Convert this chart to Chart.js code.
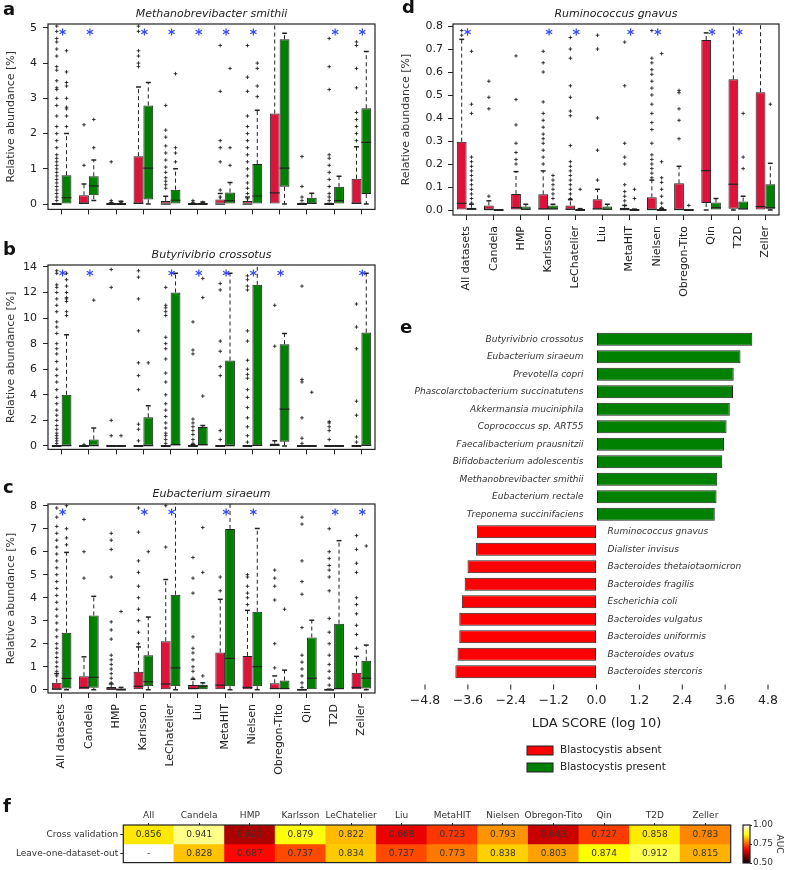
<!DOCTYPE html>
<html>
<head>
<meta charset="utf-8">
<script src="https://cdn.jsdelivr.net/npm/chart.js@4.4.1/dist/chart.umd.min.js"></script>
<style>
  body { margin: 0; width: 785px; height: 870px; position: relative; background: #fff; overflow: hidden; }
  canvas { position: absolute; }
</style>
</head>
<body>
<canvas id="chartA" width="390" height="222" style="left:0;top:0"></canvas>
<canvas id="chartB" width="390" height="222" style="left:0;top:240px"></canvas>
<canvas id="chartC" width="390" height="310" style="left:0;top:480px"></canvas>
<canvas id="chartD" width="385" height="320" style="left:400px;top:0"></canvas>
<canvas id="chartE" width="385" height="460" style="left:400px;top:320px"></canvas>
<canvas id="chartF" width="785" height="80" style="left:0;top:790px"></canvas>
<canvas id="colorBar" width="50" height="56" style="left:735px;top:815px"></canvas>
<script>
// ---- data ----
const datasetNames = ['All datasets', 'Candela', 'HMP', 'Karlsson', 'LeChatelier', 'Liu',
  'MetaHIT', 'Nielsen', 'Obregon-Tito', 'Qin', 'T2D', 'Zeller'];
const groupNames = ['Blastocystis absent', 'Blastocystis present'];

// box stats per dataset: [low whisker, q1, median, q3, high whisker]
const smithiiAbsent = [[0,0,0,0,0],[0,0,0.02,0.25,0.57],[0,0,0,0.01,0.03],[0,0,0.02,1.36,3.32],[0,0,0,0.09,0.22],[0,0,0,0.01,0.02],
  [0,0,0,0.13,0.3],[0,0,0,0.09,0.2],[0,0,0.32,2.57,6],[0,0,0,0.01,0.02],[0,0,0,0.01,0.02],[0,0,0.02,0.72,1.63]];
const smithiiPresent = [[0,0,0.18,0.82,2.0],[0.1,0.25,0.52,0.79,1.25],[0,0,0.01,0.04,0.08],[0,0.13,1.02,2.8,3.45],[0,0,0.11,0.41,1.0],[0,0,0.01,0.03,0.06],
  [0,0,0.1,0.33,0.61],[0,0,0.23,1.14,2.66],[0,0.49,1.02,4.68,4.85],[0,0,0.02,0.18,0.31],[0,0,0.1,0.49,0.79],[0,0.29,1.75,2.72,4.33]];
const smithiiAbsentOut = [
  [0.1,0.2,0.3,0.4,0.5,0.6,0.7,0.8,0.9,1.0,1.1,1.2,1.3,1.4,1.6,1.8,2.0,2.2,2.5,2.8,3.0,3.25,3.3,3.5,3.8,3.9,4.2,4.4,4.6,4.7,4.9,5.05],
  [1.1,2.25],[0.05,0.1,1.2],[3.9,4.0,4.2,4.35,4.9,5.05],[0.45,0.55,0.65,0.75,0.9,1.05,1.25,1.45,1.65,1.9,2.1,2.8],[0.05,0.1],
  [0.2,0.4,1.2,1.6,1.8,3.2,4.5],[0.15,0.3,0.45,0.6,0.8,1.0,1.2,1.4,1.6,1.8,2.0,2.2,2.5,3.2,3.6,4.5],[],[0.1,0.2,0.5,1.35],
  [0.1,0.2,0.3,0.5,0.7,0.9,1.1,1.3,1.4,3.25,3.9,4.7],[1.8,2.0,2.2,2.4,2.6,3.3,3.85,4.5,4.6]];
const smithiiPresentOut = [[2.2,2.5,2.7,2.75,3.0,3.35,3.45,3.75,4.35],[1.6,2.4],[0.05],[],[1.2,1.45,1.6,3.7],[0.05],
  [1.1,1.6,3.85],[3.05,3.35,3.85,4.0],[],[],[],[]];
const smithiiStars = [0, 1, 3, 4, 5, 6, 7, 10, 11];

const crossotusAbsent = [[0,0,0,0,0],[0,0,0,0,0],[0,0,0,0,0],[0,0,0,0,0],[0,0,0,0,0],[0,0,0,0.05,0.1],
  [0,0,0,0,0],[0,0,0,0,0],[0,0,0.05,0.2,0.4],[0,0,0,0,0],[0,0,0,0,0],[0,0,0,0,0]];
const crossotusPresent = [[0,0,0.02,4.0,8.7],[0,0,0.02,0.51,1.4],[0,0,0,0.01,0.02],[0,0,0.02,2.24,3.14],[0,0,0.1,12.0,13.5],[0,0,0.1,1.48,1.6],
  [0,0,0.02,6.68,13.5],[0,0,0.05,12.6,15],[0,0.33,2.88,7.96,8.8],[0,0,0,0.01,0.02],[0,0,0,0,0],[0,0,0.05,8.87,13.5]];
const crossotusAbsentOut = [
  [0.2,0.4,0.6,0.8,1.0,1.3,1.6,2.0,2.4,2.8,3.3,3.8,4.4,5.0,5.5,6.0,6.6,7.2,7.6,8.0,8.8,9.3,9.7,10.5,11.0,11.5,12.0,12.4,12.6,13.5,13.7],
  [0.1],[0.8,2.0,12.4,13.8],[0.4,1.3,1.7,4.4,5.5,6.5,9.0,11.5,13.2,13.7],
  [0.2,0.5,0.8,1.0,1.4,1.8,2.3,2.8,3.3,4.0,5.0,5.7,6.8,7.6,8.0,8.5,10.2,10.5,10.8,11.0,12.4],
  [0.2,0.5,0.9,1.2,1.5,1.8,2.1,7.2,7.5,9.7],[0.5,1.2,5.5,6.2,7.4,8.2,12.2,12.7],
  [0.3,0.8,1.5,2.2,3.0,3.8,4.4,5.3,5.6,6.0,6.7,8.2,9.0,12.2,12.5,13.0,13.3],[7.8,11.0],[0.2,0.6,2.2,5.0,5.2,12.5],
  [0.5,1.2,1.5,1.8,1.9],[0.3,0.7,2.4,3.5,7.6,9.3,11.1]];
const crossotusPresentOut = [[10.2,10.5,11.3,11.5,11.6,12.0,12.5,13.0,13.5],[11.4],[0.8],[6.5],[],[3.9,11.6,13.1],
  [],[],[],[4.2],[],[]];
const crossotusStars = [0, 1, 4, 5, 6, 7, 8, 11];

const siraeumAbsent = [[0,0,0.02,0.3,0.7],[0,0,0.1,0.59,1.43],[0,0,0.02,0.12,0.25],[0,0,0.15,0.78,1.86],[0,0,0.25,2.11,4.79],[0,0,0.05,0.2,0.45],
  [0,0,0.2,1.62,3.93],[0,0,0.1,1.47,3.45],[0,0,0.05,0.28,0.6],[0,0,0,0,0],[0,0,0,0.01,0.02],[0,0,0.1,0.74,1.45]];
const siraeumPresent = [[0,0.05,0.49,2.48,5.97],[0,0.08,0.54,3.23,4.06],[0,0,0.02,0.05,0.1],[0,0.15,0.35,1.5,3.16],[0,0.15,0.95,4.13,9],[0,0,0.15,0.22,0.3],
  [0,0.15,1.36,6.99,8.5],[0,0.15,1.0,3.39,7.01],[0,0,0.05,0.4,0.85],[0,0,0.5,2.27,3.02],[0,0,0.05,2.87,6.48],[0,0.05,0.5,1.26,1.94]];
const siraeumAbsentOut = [
  [0.6,0.8,1.0,1.2,1.4,1.6,1.8,2.0,2.3,2.6,2.9,3.2,3.5,3.8,4.1,4.4,4.7,5.0,5.3,5.6,5.9,6.2,6.5,6.8,7.1,7.5,7.9],
  [4.85,6.0,7.4],[0.3,0.5,0.7,0.9,1.1,1.3,1.5,2.2,2.6,2.95,4.9,6.1,6.5,6.8],[2.0,2.5,3.0,3.5,4.0,4.5,5.1,5.6,6.85,7.9],
  [6.2,8.0],[0.5,0.8,1.0,1.3,1.6,1.8,2.3,4.2,4.85,5.75],[4.3,4.9],[3.7,4.0,4.2,4.5,4.9,5.0],[0.95,2.0,3.9,4.5,4.85,5.2],
  [0.1,0.3,0.6,0.9,1.2,1.5,2.7,4.15,4.7,5.6,7.2,7.5],[0.2,0.5,0.8,1.1,1.5,2.0,2.5,3.1,4.3,4.9,5.2,5.4,5.7,6.0,7.0],
  [1.8,2.4,2.8,3.3,3.7,4.0,5.1,5.5,6.1,6.7]];
const siraeumPresentOut = [[6.3,6.6,7.0,8.0],[],[3.4],[6.0],[],[0.6,5.1,7.05],[],[],[3.5],[],[],[6.25]];
const siraeumStars = [0, 3, 4, 6, 7, 10, 11];

const gnavusAbsent = [[0,0,0.029,0.297,0.742],[0,0,0.002,0.02,0.04],[0,0,0.01,0.07,0.167],[0,0,0.005,0.068,0.17],[0,0,0.003,0.02,0.045],[0,0,0.005,0.047,0.09],
  [0,0,0.002,0.01,0.02],[0,0,0.002,0.055,0.13],[0,0,0.002,0.116,0.19],[0,0.03,0.171,0.739,0.77],[0,0.005,0.112,0.568,0.9],[0,0,0.015,0.512,0.9]];
const gnavusPresent = [[0,0,0.003,0.01,0.025],[0,0,0,0,0],[0,0,0.003,0.015,0.025],[0,0,0.005,0.02,0.025],[0,0,0,0.003,0.006],[0,0,0.003,0.015,0.025],
  [0,0,0,0.002,0.004],[0,0,0,0.003,0.006],[0,0,0,0,0],[0,0,0.01,0.033,0.05],[0,0,0.005,0.037,0.06],[0,0.005,0.01,0.112,0.203]];
const gnavusAbsentOut = [[0.76,0.78],[0.06,0.44,0.49,0.56],[0.2,0.22,0.25,0.29,0.37,0.48,0.67],
  [0.2,0.23,0.26,0.29,0.31,0.33,0.36,0.39,0.42,0.47,0.6,0.64,0.69],
  [0.05,0.07,0.09,0.11,0.13,0.15,0.17,0.19,0.21,0.28,0.41,0.43,0.49,0.54,0.66,0.70,0.75],[0.13,0.26,0.40,0.70,0.76],
  [0.02,0.04,0.06,0.08,0.11,0.2,0.23,0.29,0.54,0.73],
  [0.14,0.16,0.18,0.2,0.22,0.24,0.29,0.35,0.38,0.42,0.46,0.5,0.53,0.56,0.59,0.61,0.64,0.66,0.78],
  [0.31,0.39,0.44,0.51,0.52],[],[],[]];
const gnavusPresentOut = [[0.03,0.05,0.07,0.09,0.11,0.13,0.15,0.17,0.19,0.21,0.23,0.42,0.46,0.69],[],[],
  [0.05,0.07,0.09,0.11,0.13,0.15],[0.09],[],[0.05,0.09],[0.01,0.03,0.06,0.09,0.12,0.14,0.21,0.68],[0.02],[],[0.18,0.23,0.42],[0.46]];
const gnavusStars = [0, 3, 4, 6, 7, 9, 10];

const ldaSpecies = ['Butyrivibrio crossotus', 'Eubacterium siraeum', 'Prevotella copri', 'Phascolarctobacterium succinatutens',
  'Akkermansia muciniphila', 'Coprococcus sp. ART55', 'Faecalibacterium prausnitzii', 'Bifidobacterium adolescentis',
  'Methanobrevibacter smithii', 'Eubacterium rectale', 'Treponema succinifaciens', 'Ruminococcus gnavus', 'Dialister invisus',
  'Bacteroides thetaiotaomicron', 'Bacteroides fragilis', 'Escherichia coli', 'Bacteroides vulgatus', 'Bacteroides uniformis',
  'Bacteroides ovatus', 'Bacteroides stercoris'];
const ldaScores = [4.36, 4.03, 3.84, 3.82, 3.73, 3.64, 3.57, 3.52, 3.38, 3.36, 3.31,
  -3.35, -3.37, -3.61, -3.69, -3.77, -3.84, -3.84, -3.89, -3.95];
const ldaTicks = [-4.8, -3.6, -2.4, -1.2, 0, 1.2, 2.4, 3.6, 4.8];

const aucColumns = ['All', 'Candela', 'HMP', 'Karlsson', 'LeChatelier', 'Liu', 'MetaHIT', 'Nielsen', 'Obregon-Tito', 'Qin', 'T2D', 'Zeller'];
const aucRows = ['Cross validation', 'Leave-one-dataset-out'];
const aucCrossValidation = [0.856, 0.941, 0.621, 0.879, 0.822, 0.668, 0.723, 0.793, 0.643, 0.727, 0.858, 0.783];
const aucLeaveOneOut = [null, 0.828, 0.687, 0.737, 0.834, 0.737, 0.773, 0.838, 0.803, 0.874, 0.912, 0.815];
const aucTicks = [0.5, 0.75, 1.0];

// ---- styling ----
Chart.defaults.font.family = "'DejaVu Sans', sans-serif";
Chart.defaults.font.size = 11;
Chart.defaults.color = '#222';
Chart.defaults.animation = false;
Chart.defaults.responsive = false;
Chart.defaults.plugins.legend.display = false;
Chart.defaults.plugins.tooltip.enabled = false;

const ink = '#222';
const crimson = '#dc143c';
const green = '#008000';

function seg(ctx, x1, y1, x2, y2) {
  ctx.beginPath(); ctx.moveTo(x1, y1); ctx.lineTo(x2, y2); ctx.stroke();
}

// matplotlib "hot" colormap between 0.5 and 1.0
function hot(v) {
  const t = Math.max(0, Math.min(1, (v - 0.5) / 0.5));
  const r = Math.min(1, 0.0416 + t / 0.365 * 0.958);
  const g = Math.max(0, Math.min(1, (t - 0.365) / 0.381));
  const b = Math.max(0, Math.min(1, (t - 0.746) / 0.254));
  return `rgb(${Math.round(r * 255)},${Math.round(g * 255)},${Math.round(b * 255)})`;
}

const framePlugin = {
  id: 'frame',
  afterDatasetsDraw(chart) {
    const a = chart.chartArea, ctx = chart.ctx;
    ctx.save();
    ctx.strokeStyle = ink; ctx.lineWidth = 1.2;
    ctx.strokeRect(a.left, a.top, a.width, a.height);
    ctx.restore();
  }
};

// panel letter and italic title
const panelPlugin = {
  id: 'panel',
  afterDraw(chart, args, opts) {
    const ctx = chart.ctx, a = chart.chartArea;
    ctx.save();
    ctx.fillStyle = '#111';
    ctx.font = "bold 18px 'DejaVu Sans'";
    ctx.textBaseline = 'alphabetic';
    ctx.fillText(opts.letter, opts.lx, opts.ly);
    if (opts.title) {
      ctx.font = "italic 11px 'DejaVu Sans'";
      ctx.textAlign = 'center'; ctx.textBaseline = 'middle';
      ctx.fillStyle = ink;
      ctx.fillText(opts.title, (a.left + a.right) / 2, a.top - 10);
    }
    ctx.restore();
  }
};

// whiskers, medians, outliers and significance stars
const boxPlugin = {
  id: 'boxes',
  afterDatasetsDraw(chart, args, opts) {
    const {ctx, chartArea: a} = chart;
    const x = chart.scales.x, y = chart.scales.y;
    ctx.save();
    ctx.beginPath(); ctx.rect(a.left, a.top - 1, a.width, a.height + 2); ctx.clip();
    ctx.strokeStyle = ink; ctx.lineWidth = 1;
    opts.groups.forEach((g, d) => {
      chart.getDatasetMeta(d).data.forEach((bar, i) => {
        const [lo, q1, med, q3, hi] = g.stats[i];
        const cx = bar.x, hw = bar.width / 2;
        const py = v => y.getPixelForValue(v);
        ctx.lineWidth = 1.2;
        seg(ctx, cx - hw, py(med), cx + hw, py(med));
        ctx.lineWidth = 1;
        ctx.setLineDash([4, 3]);
        if (hi > q3) seg(ctx, cx, py(q3), cx, py(hi));
        if (lo < q1) seg(ctx, cx, py(q1), cx, py(lo));
        ctx.setLineDash([]);
        ctx.lineWidth = 1.5;
        if (hi > q3) seg(ctx, cx - hw / 2, py(hi), cx + hw / 2, py(hi));
        if (lo < q1) seg(ctx, cx - hw / 2, py(lo), cx + hw / 2, py(lo));
        ctx.lineWidth = 0.9;
        g.out[i].forEach(v => {
          const p = py(v);
          seg(ctx, cx - 1.8, p, cx + 1.8, p);
          seg(ctx, cx, p - 1.8, cx, p + 1.8);
        });
      });
    });
    ctx.strokeStyle = '#3848ff'; ctx.lineWidth = 1.2;
    opts.stars.forEach(i => {
      const sx = x.getPixelForValue(i) + 1, sy = a.top + 8;
      [0, 60, 120].forEach(deg => {
        const r = deg * Math.PI / 180;
        seg(ctx, sx - 3.6 * Math.sin(r), sy - 3.6 * Math.cos(r), sx + 3.6 * Math.sin(r), sy + 3.6 * Math.cos(r));
      });
    });
    ctx.restore();
  }
};

function boxChart(id, o) {
  const boxStyle = {borderColor: ink, borderWidth: 1, borderSkipped: false, minBarLength: 2,
    barPercentage: 1, categoryPercentage: 0.72};
  return new Chart(document.getElementById(id), {
    type: 'bar',
    data: {
      labels: datasetNames,
      datasets: [
        Object.assign({label: groupNames[0], data: o.absent.map(s => [s[1], s[3]]), backgroundColor: crimson}, boxStyle),
        Object.assign({label: groupNames[1], data: o.present.map(s => [s[1], s[3]]), backgroundColor: green}, boxStyle)
      ]
    },
    options: {
      layout: {padding: {left: 0, right: o.padRight, top: o.padTop, bottom: 0}},
      scales: {
        x: {
          grid: {display: true, drawOnChartArea: false, offset: false, tickLength: 5, color: ink},
          border: {display: false},
          ticks: {display: o.showLabels, autoSkip: false, minRotation: 90, maxRotation: 90, padding: 6,
            font: {size: 11}, color: ink},
          afterFit: s => { s.height = o.xHeight; }
        },
        y: {
          min: o.yMin, max: o.yMax,
          afterBuildTicks: s => { s.ticks = o.yTicks.map(v => ({value: v})); },
          ticks: {callback: o.fmt, padding: o.tickPad, font: {size: 11}, color: ink},
          grid: {display: true, drawOnChartArea: false, tickLength: 5, color: ink},
          border: {display: false},
          title: {display: true, text: 'Relative abundance [%]', font: {size: 11}, color: '#333',
            padding: {top: o.titlePad, bottom: 0}},
          afterFit: s => { s.width = o.yWidth; }
        }
      },
      plugins: {
        boxes: {groups: [{stats: o.absent, out: o.absentOut}, {stats: o.present, out: o.presentOut}], stars: o.stars},
        panel: {letter: o.letter, lx: o.lx, ly: o.ly, title: o.title}
      }
    },
    plugins: [boxPlugin, framePlugin, panelPlugin]
  });
}

boxChart('chartA', {
  absent: smithiiAbsent, present: smithiiPresent, absentOut: smithiiAbsentOut, presentOut: smithiiPresentOut,
  stars: smithiiStars, yMin: -0.15, yMax: 5.11, yTicks: [0, 1, 2, 3, 4, 5], fmt: v => String(v),
  padTop: 24, padRight: 15, xHeight: 6, yWidth: 48, tickPad: 6, titlePad: 5, showLabels: false,
  letter: 'a', lx: 3, ly: 15, title: 'Methanobrevibacter smithii'
});
boxChart('chartB', {
  absent: crossotusAbsent, present: crossotusPresent, absentOut: crossotusAbsentOut, presentOut: crossotusPresentOut,
  stars: crossotusStars, yMin: -0.27, yMax: 14.15, yTicks: [0, 2, 4, 6, 8, 10, 12, 14], fmt: v => String(v),
  padTop: 25, padRight: 15, xHeight: 8, yWidth: 48, tickPad: 6, titlePad: 5, showLabels: false,
  letter: 'b', lx: 3, ly: 15, title: 'Butyrivibrio crossotus'
});
boxChart('chartC', {
  absent: siraeumAbsent, present: siraeumPresent, absentOut: siraeumAbsentOut, presentOut: siraeumPresentOut,
  stars: siraeumStars, yMin: -0.143, yMax: 8.074, yTicks: [0, 1, 2, 3, 4, 5, 6, 7, 8], fmt: v => String(v),
  padTop: 24, padRight: 15, xHeight: 97, yWidth: 48, tickPad: 6, titlePad: 5, showLabels: true,
  letter: 'c', lx: 3, ly: 13, title: 'Eubacterium siraeum'
});
boxChart('chartD', {
  absent: gnavusAbsent, present: gnavusPresent, absentOut: gnavusAbsentOut, presentOut: gnavusPresentOut,
  stars: gnavusStars, yMin: -0.0217, yMax: 0.8087, yTicks: [0, 0.1, 0.2, 0.3, 0.4, 0.5, 0.6, 0.7, 0.8],
  fmt: v => v.toFixed(1),
  padTop: 24, padRight: 6, xHeight: 105, yWidth: 53, tickPad: 5, titlePad: 0, showLabels: true,
  letter: 'd', lx: 2, ly: 13, title: 'Ruminococcus gnavus'
});

// ---- panel e: LDA scores ----
const ldaPlugin = {
  id: 'lda',
  afterDraw(chart) {
    const ctx = chart.ctx, x = chart.scales.x, y = chart.scales.y;
    const x0 = x.getPixelForValue(0);
    ctx.save();
    ctx.font = "italic 9px 'DejaVu Sans'";
    ctx.fillStyle = '#333';
    ctx.textBaseline = 'middle';
    ldaSpecies.forEach((name, i) => {
      const py = y.getPixelForValue(i);
      if (ldaScores[i] > 0) { ctx.textAlign = 'right'; ctx.fillText(name, x0 - 13, py); }
      else { ctx.textAlign = 'left'; ctx.fillText(name, x0 + 11, py); }
    });
    // short tick marks below the bars
    ctx.strokeStyle = ink; ctx.lineWidth = 1;
    ldaTicks.forEach(v => {
      const px = x.getPixelForValue(v);
      seg(ctx, px, chart.chartArea.bottom + 4, px, chart.chartArea.bottom + 9);
    });
    // legend
    ctx.font = "10.5px 'DejaVu Sans'";
    ctx.textAlign = 'left';
    chart.data.datasets.forEach((ds, k) => {
      const cy = 430.5 + k * 17;
      ctx.fillStyle = ds.backgroundColor;
      ctx.fillRect(127, cy - 4.5, 26, 9);
      ctx.strokeStyle = ink; ctx.lineWidth = 1;
      ctx.strokeRect(127, cy - 4.5, 26, 9);
      ctx.fillStyle = ink;
      ctx.fillText(ds.label, 160, cy);
    });
    ctx.restore();
  }
};

new Chart(document.getElementById('chartE'), {
  type: 'bar',
  data: {
    labels: ldaSpecies,
    datasets: [
      {label: groupNames[0], data: ldaScores.map(v => v < 0 ? v : null), backgroundColor: '#ff0000',
        borderColor: ink, borderWidth: 1, borderSkipped: false, grouped: false, barPercentage: 0.74, categoryPercentage: 1},
      {label: groupNames[1], data: ldaScores.map(v => v > 0 ? v : null), backgroundColor: green,
        borderColor: ink, borderWidth: 1, borderSkipped: false, grouped: false, barPercentage: 0.74, categoryPercentage: 1}
    ]
  },
  options: {
    indexAxis: 'y',
    layout: {padding: {left: 25, right: 17, top: 10.5, bottom: 0}},
    scales: {
      x: {
        min: -4.8, max: 4.8,
        afterBuildTicks: s => { s.ticks = ldaTicks.map(v => ({value: v})); },
        ticks: {callback: v => (v < 0 ? '\u2212' : '') + Math.abs(v).toFixed(1), font: {size: 12.5}, padding: 3, color: ink},
        grid: {drawOnChartArea: false, tickLength: 10, tickColor: 'rgba(0,0,0,0)'},
        border: {display: false},
        title: {display: true, text: 'LDA SCORE (log 10)', font: {size: 13}, color: ink, padding: {top: 0, bottom: 49}},
        afterFit: s => { s.height = 99.5; }
      },
      y: {display: false}
    },
    plugins: {panel: {letter: 'e', lx: 0, ly: 13}}
  },
  plugins: [ldaPlugin, panelPlugin]
});

// ---- panel f: AUC heatmap ----
const heatPlugin = {
  id: 'heat',
  afterDatasetsDraw(chart) {
    const ctx = chart.ctx, x = chart.scales.x, y = chart.scales.y;
    ctx.save();
    ctx.font = "9px 'DejaVu Sans'";
    ctx.fillStyle = '#333';
    ctx.textAlign = 'center'; ctx.textBaseline = 'middle';
    [aucCrossValidation, aucLeaveOneOut].forEach((row, r) => {
      const py = y.getPixelForValue(r === 0 ? 1.5 : 0.5);
      row.forEach((v, i) => {
        ctx.fillText(v == null ? '-' : v.toFixed(3), x.getPixelForValue(i), py);
      });
    });
    ctx.restore();
  }
};

new Chart(document.getElementById('chartF'), {
  type: 'bar',
  data: {
    labels: aucColumns,
    datasets: [
      {label: aucRows[0], data: aucCrossValidation.map(v => v == null ? null : [1, 2]),
        backgroundColor: aucCrossValidation.map(v => v == null ? '#fff' : hot(v)),
        borderWidth: 0, grouped: false, barPercentage: 1, categoryPercentage: 1},
      {label: aucRows[1], data: aucLeaveOneOut.map(v => v == null ? null : [0, 1]),
        backgroundColor: aucLeaveOneOut.map(v => v == null ? '#fff' : hot(v)),
        borderWidth: 0, grouped: false, barPercentage: 1, categoryPercentage: 1}
    ]
  },
  options: {
    layout: {padding: {left: 0, right: 54.3, top: 0, bottom: 3.3}},
    scales: {
      x: {
        position: 'top',
        ticks: {font: {size: 9}, padding: 2, color: '#333', autoSkip: false, maxRotation: 0},
        grid: {drawOnChartArea: false, offset: false, tickLength: 2, color: ink},
        border: {display: false},
        afterFit: s => { s.height = 35; }
      },
      y: {
        min: 0, max: 2,
        afterBuildTicks: s => { s.ticks = [{value: 0.5}, {value: 1.5}]; },
        ticks: {callback: v => v > 1 ? aucRows[0] : aucRows[1], font: {size: 9}, padding: 2, color: '#333'},
        grid: {drawOnChartArea: false, tickLength: 3, color: ink},
        border: {display: false},
        afterFit: s => { s.width = 123.3; }
      }
    },
    plugins: {panel: {letter: 'f', lx: 3, ly: 22}}
  },
  plugins: [heatPlugin, framePlugin, panelPlugin]
});

// colour bar
new Chart(document.getElementById('colorBar'), {
  type: 'bar',
  data: {
    labels: ['AUC'],
    datasets: [{
      data: [[0.5, 1.0]],
      backgroundColor: c => {
        const a = c.chart.chartArea;
        if (!a) return '#000';
        const g = c.chart.ctx.createLinearGradient(0, a.bottom, 0, a.top);
        for (let k = 0; k <= 20; k++) g.addColorStop(k / 20, hot(0.5 + 0.025 * k));
        return g;
      },
      borderWidth: 0, barPercentage: 1, categoryPercentage: 1
    }]
  },
  options: {
    layout: {padding: {left: 8, right: 0, top: 10, bottom: 8}},
    scales: {
      x: {display: false},
      y: {
        position: 'right', min: 0.5, max: 1.0,
        afterBuildTicks: s => { s.ticks = aucTicks.map(v => ({value: v})); },
        ticks: {callback: v => v.toFixed(2), font: {size: 9}, padding: 1, color: '#333'},
        grid: {drawOnChartArea: false, tickLength: 2, color: ink},
        border: {display: false},
        title: {display: true, text: 'AUC', font: {size: 9}, color: '#333', padding: 0},
        afterFit: s => { s.width = 35; }
      }
    }
  },
  plugins: [framePlugin]
});
</script>
</body>
</html>
